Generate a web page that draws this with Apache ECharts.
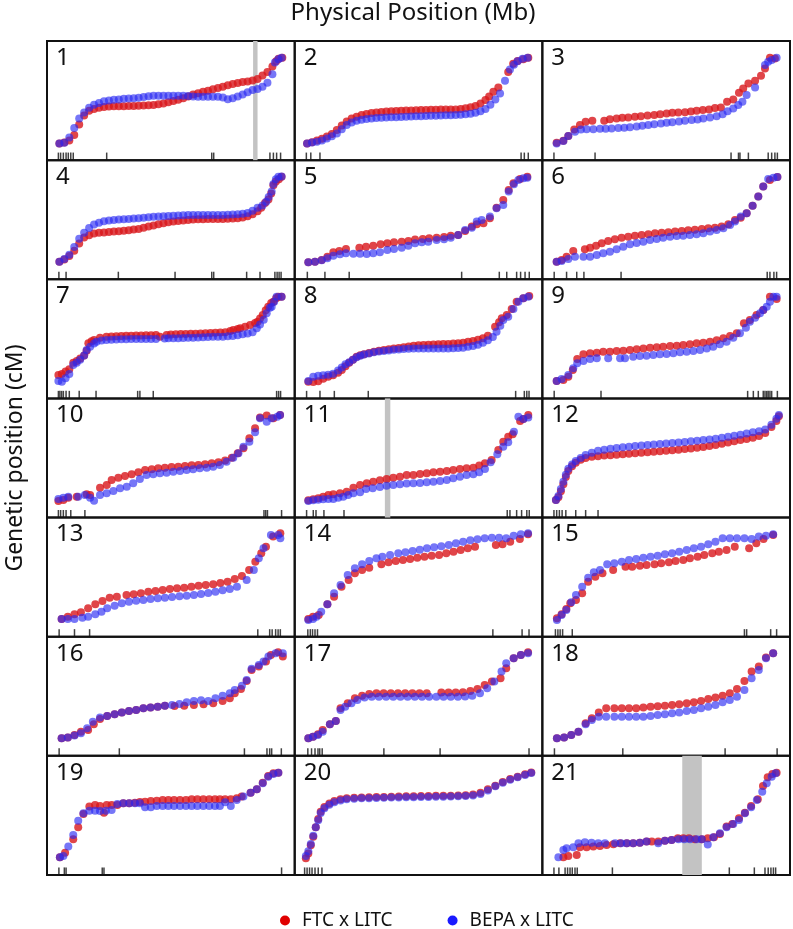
<!DOCTYPE html>
<html><head><meta charset="utf-8">
<script src="https://cdn.jsdelivr.net/npm/echarts@6/dist/echarts.min.js"></script>
<style>html,body{margin:0;padding:0;background:#fff}#c{width:793px;height:929px}</style>
</head><body><div id="c"></div>
<script>
// ---- data (relative physical position 0-100, relative genetic position 0-100) ----
const p1Red=[[5,14],[7,14.8],[9,16.5],[11,21],[13,30],[15,37.5],[17,41.5],[19,43],[21,44],[23,44.6],[25,45],[27,45.3],[29,45.3],[31,45.3],[33,45.4],[35,45.5],[37,45.6],[39,45.8],[41,46],[43,46.2],[45,47],[47,47.6],[49,48.6],[51,49.6],[53,50.6],[55,52],[57,53.5],[59,55],[61,56.2],[63,57.4],[65,58.3],[67,59.5],[69,60.5],[71,61.6],[73,62.8],[75,64],[77,64.8],[79,65.5],[81,66.1],[83,66.8],[85,68],[87,71],[89,74],[91,78.5],[92.5,83],[93.5,85],[95,86]];
const p1Blue=[[5,14],[7,14.5],[9,19],[11,27],[13,35],[15,40],[17,44],[19,46.5],[21,48],[23,49.5],[25,50],[27,50.7],[29,51],[31,51.5],[33,51.8],[35,52],[37,52.3],[39,53],[41,53.6],[43,54],[45,54],[47,54],[49,54],[51,54],[53,54],[55,54],[57,53.8],[59,53.5],[61,53.3],[63,53.2],[65,53.2],[67,53.2],[69,53.2],[71,52.5],[73,51.2],[75,52],[77,53.5],[79,55],[81,57],[83,58.8],[85,59.8],[87,61.5],[89,65],[91,72],[92,82],[93.4,84.6],[94.7,86]];
const p1Rug=[4.6,5.5,6.6,7.7,8.6,9.6,10.6,24.1,66.5,67.3,90,91.4,92.7,94.3];

const p2Red=[[5,14],[7,15],[9,16.5],[11,18],[13,19.8],[15,22],[17,25.2],[19,29],[21,32.5],[23,35],[25,36.4],[27,37.8],[29,38.8],[31,39.5],[33,40],[35,40.5],[37,40.9],[39,41.1],[41,41.3],[43,41.5],[45,41.6],[47,41.7],[49,41.8],[51,42],[53,42.1],[55,42.2],[57,42.3],[59,42.4],[61,42.4],[63,42.5],[65,42.5],[67,43],[69,43.5],[71,44.3],[73,45.5],[75,47.5],[77,50.5],[78.5,53.5],[80.2,57.3],[82.2,61],[86.2,74],[88.2,81],[90,83.3],[92.3,84.6],[94.3,86]];
const p2Blue=[[5,14],[7,14.8],[9,15.4],[11,16.5],[13,18.2],[15,20],[17,22.4],[19,26],[21,29.4],[23,31.5],[25,33],[27,34],[29,34.6],[31,35],[33,35.3],[35,35.5],[37,35.7],[39,35.9],[41,36.1],[43,36.3],[45,36.5],[47,36.7],[49,36.8],[51,36.9],[53,37],[55,37.2],[57,37.3],[59,37.5],[61,37.6],[63,37.7],[65,37.8],[67,38.2],[69,38.6],[71,39],[73,39.8],[75,41],[77,43],[79,46.5],[81,51],[82.9,56],[84.9,66.6],[86.9,76],[88.5,80],[90,83],[92,85],[94,86]];
const p2Rug=[4.7,6.5,10.2,91.4,92.7,94.3];

const p3Red=[[5.8,14.5],[8.5,16.2],[10.5,20.2],[12.9,25.7],[15.2,29.4],[17.5,32.2],[20.2,33],[25,33],[27.3,34.4],[30,35],[32.3,35.5],[34.7,35.8],[37.4,36.4],[39.8,36.9],[42.5,37.5],[45.2,37.8],[47.6,38.6],[50.2,39.2],[52.5,39.7],[54.9,40],[57.6,40.3],[60,40.9],[62.3,41.4],[64.8,42],[67.3,42.5],[69.7,43.7],[72.1,44.2],[74.6,49],[77.1,51],[79.4,56.5],[81.1,60.2],[83.2,64.4],[85.9,66.6],[88.3,70.8],[89.9,77],[91.9,85.9],[93.9,85.4]];
const p3Blue=[[5.8,14],[8.5,16],[10.5,20.2],[13.2,23.8],[15.6,25.7],[17.9,26],[20.6,26],[23.3,26.3],[25.6,26.3],[28,26.6],[30.7,26.9],[33.1,27.2],[35.4,27.7],[38.1,28.3],[40.4,28.8],[42.8,29.4],[45.2,30.2],[47.9,30.8],[50.2,31.3],[52.5,31.9],[55.2,32.5],[57.6,33],[60.3,33.6],[62.7,34.2],[65,35],[67.7,35.8],[70.4,36.9],[72.8,38.6],[74.8,41.1],[77.1,43.4],[79.1,46.2],[80.8,49],[82.5,54.6],[85.9,61],[89.9,79.8],[91.2,82.6],[92.6,84],[94.6,85.9]];
const p3Rug=[4.7,21.3,76.2,79.2,79.8,83.2,91.2,92.6,93.9,94.9];

const p4Red=[[5,14.8],[7,16.5],[9,19.5],[11,24],[13,30],[15,35],[17,37],[19,38.4],[21,39],[23,39.3],[25,39.6],[27,40],[29,40.4],[31,40.7],[33,41.2],[35,41.7],[37,42.3],[39,43.2],[41,44.2],[43,45.2],[45,46.2],[47,47.1],[49,47.8],[51,48.4],[53,49],[55,49.4],[57,49.8],[59,50.1],[61,50.3],[63,50.4],[65,50.5],[67,50.6],[69,50.6],[71,50.7],[73,50.8],[75,51],[77,51.2],[79,51.8],[81,53],[83,54.5],[85,57],[86.5,60],[88,64],[89.4,67],[90.5,72],[91.4,79],[92.4,82],[93.6,84],[94.7,86]];
const p4Blue=[[5,14.8],[7,17],[9,20.5],[11,27],[13,34],[15,39],[17,43],[19,46],[21,47.5],[23,48.7],[25,49.3],[27,49.8],[29,50.2],[31,50.4],[33,50.7],[35,51],[37,51.2],[39,51.6],[41,52],[43,52.4],[45,52.7],[47,53],[49,53.2],[51,53.4],[53,53.6],[55,53.8],[57,54],[59,54],[61,54],[63,54],[65,54],[67,54],[69,54],[71,54],[73,54.2],[75,54.4],[77,54.6],[79,55],[81,55.6],[83,57.5],[85,60],[87,62],[88.5,65],[89.5,69],[90.7,73.6],[91.4,80],[92.4,84],[93.4,86],[94.7,86.2]];
const p4Rug=[4.8,7.7,28.8,51.7,66.5,67.3,80.6,86,92,92.9,93.7,94.5];

const p5Red=[[5.5,14.3],[8.2,14.8],[10.9,16.2],[13.2,19],[15.6,22.7],[18,23.8],[20.7,25.4],[26.1,26.5],[28.8,27.4],[31.7,28.2],[34.7,29.4],[37.4,30.2],[40.1,31.1],[43.2,31.6],[45.9,32.2],[48.6,33.3],[51.7,33.8],[54.3,34.4],[57.3,34.9],[60.3,35.5],[63,36.6],[66,37.2],[68.8,40.6],[71.5,44.2],[73.5,46.2],[76.2,47],[78.8,51.2],[81.5,60.1],[84.2,66.6],[86.4,75],[88.3,80.6],[91,84.2],[93.9,86.1]];
const p5Blue=[[5.5,14.3],[8.2,14.8],[10.9,16],[13.2,17.6],[15.6,19.8],[18.3,21],[20.7,21.8],[23.7,21.5],[26.4,21.5],[29.1,21.2],[31.7,21.8],[34.4,22.7],[37.4,24.6],[40.1,25.4],[43.2,26.5],[45.9,28.2],[48.6,30.2],[51.3,31.1],[53.9,31.6],[57.3,33],[60.3,33.5],[63,34.9],[66,37.2],[68.8,41.4],[71.5,43.3],[73.5,48.4],[75.5,49.8],[78.8,52.6],[81.5,59.6],[84.2,62.4],[86.4,73.6],[88.5,79.8],[90.3,83.4],[92.3,84.8],[93.9,85.3]];
const p5Rug=[5.1,12.2,22,67.4,82.6,85.6,89.6,91.2,93,94.7];

const p6Red=[[5.8,14.8],[7.8,16.2],[9.8,19],[12.5,23.8],[17.2,25.2],[19.3,26.5],[21.7,28.2],[24,30.2],[26.6,32.2],[29.3,33.5],[32,34.9],[34.7,35.8],[37.4,36.6],[40.1,37.2],[42.8,37.8],[45.5,38.6],[48.2,39.1],[50.9,39.5],[53.6,40],[56.3,40.6],[58.9,41.1],[61.6,41.6],[64.4,42.2],[67,42.8],[69.7,43.3],[72.4,44.2],[75.1,46.2],[77.8,49.8],[80.1,51.7],[82.5,55.4],[84.9,61.8],[87.2,69.4],[89.2,77.8],[91.9,83.4],[94.9,85.9]];
const p6Blue=[[5.8,14.8],[7.8,15.4],[10.5,17],[13.2,19],[16.6,19],[19.3,19],[22,20.4],[24.6,21.8],[27.3,23.2],[30,25.2],[32.7,27.4],[35.4,29.4],[38.1,30.5],[40.8,31.6],[43.5,33],[46.2,33.8],[48.8,34.9],[51.6,35.8],[54.3,36.4],[56.9,36.6],[59.6,37.2],[62.3,37.8],[65,38.6],[67.7,40],[70.4,41.4],[73.1,42.8],[75.8,45.6],[77.8,48.4],[80.1,52.6],[82.5,55.4],[84.9,61.8],[87.2,69.4],[89.2,77.8],[91.2,84.2],[93.3,85.3],[94.9,85.9]];
const p6Rug=[4.8,9.8,13.9,16.8,31.8,90.8,91.9,93.5,94.6];

const p7Red=[[4.6,19.6],[6,20.5],[7.5,22.5],[9,24.5],[10.6,30],[12,31.5],[13.4,33.5],[15,36],[16,40],[16.7,46.3],[18,48],[19,49],[21.4,51],[24,51.8],[26,52],[28,52.2],[30,52.4],[32,52.6],[34,52.7],[36,52.8],[38,52.9],[40,53],[42,53.1],[44,53.2],[45.6,51.8],[48.3,53.2],[50,53.6],[52,53.8],[54,54],[56,54.1],[58,54.2],[60,54.3],[62,54.5],[64,54.7],[66,54.9],[68,55.1],[70,55.3],[72,55.6],[74,56.5],[75.2,57.4],[77,58.3],[78,58.9],[80,60.2],[82,61.6],[84,63.2],[85,64.4],[86,67],[87.1,70],[88.3,74],[89.3,77],[90.5,80],[91.4,81.2],[92.5,84],[93.4,85.4],[94.7,85.4]];
const p7Blue=[[4.6,14.6],[6,14],[7.5,17],[9,20.5],[10.6,28],[12,30],[13.4,32.5],[15,36],[16,40.6],[17.4,43.4],[19,46],[20,47.6],[22,48.6],[24,49],[26,49.2],[28,49.4],[30,49.6],[32,49.7],[34,49.8],[36,49.8],[38,49.9],[40,49.9],[42,49.9],[44,49.9],[47.5,50.2],[49,50.4],[51,50.5],[53,50.6],[55,50.7],[57,50.9],[59,51],[61,51.2],[63,51.4],[65,51.6],[67,51.7],[69,51.7],[71,51.8],[73,52.1],[75,52.4],[77,53],[79,53.8],[81,54.4],[83,55.5],[84.7,58.9],[86,62],[87.5,66],[88.7,71.4],[90,76],[90.7,77],[91.7,81.2],[92.7,85.4],[94.7,85.4]];
const p7Rug=[4.6,5.2,5.9,6.6,7.7,9,13,19.8,36.6,37.5,42.9,92.7,93.5,94.3];

const p8Red=[[5.5,14],[7.5,13.8],[9.5,14.5],[11.5,16.5],[13.5,18.2],[15.5,19.5],[17.5,21.5],[19,23.8],[20.5,27],[22,30],[23.5,32.5],[25,35],[26.5,36.3],[28,37],[30,38.2],[32,39.2],[34,40],[36,40.6],[38,41.2],[40,41.8],[42,42.4],[44,43],[46,43.6],[48,44.2],[50,44.6],[52,44.8],[54,45.1],[56,45.3],[58,45.4],[60,45.6],[62,45.7],[64,46],[66,46.4],[68,46.8],[70,47.5],[72,48.2],[74,49.2],[76,50.5],[78,52.5],[80.9,60.2],[82.5,64],[83.6,67.3],[85.6,70],[87.6,75.1],[89.6,81.2],[92.3,84],[94.7,86]];
const p8Blue=[[5.5,14.6],[7.5,18.2],[9.5,19.1],[11.5,19.4],[13.5,19.8],[15.5,20.7],[17.5,23.5],[19,26],[20.5,28.6],[22,30.3],[23.5,32.5],[25,34.5],[26.5,35.9],[28,36.8],[30,37.6],[32,38.7],[34,39.3],[36,39.8],[38,40.3],[40,40.8],[42,41.1],[44,41.4],[46,41.6],[48,41.8],[50,41.9],[52,42],[54,42],[56,42],[58,42],[60,42],[62,42],[64,42.1],[66,42.3],[68,42.6],[70,43.3],[72,44],[74,45],[76,46.8],[78,48.8],[80,51.5],[81.5,56],[83,61],[84.2,65.8],[86.2,68.6],[88.3,75],[90.3,81.2],[92.3,84],[94.3,85.4]];
const p8Rug=[4.8,10.2,16,29.7,89.2,92.7,93.7,94.6];

const p9Red=[[5.8,14.6],[8.5,15.4],[10.5,18.2],[12.3,23.8],[14.1,33.1],[16.6,37],[19.3,37.9],[22,38.4],[24.6,39.2],[27.3,39.2],[30,39.8],[32.7,40],[35.4,40.6],[38.1,41.2],[40.8,42],[43.5,42.6],[46.2,42.9],[48.8,43.4],[51.6,44],[54.3,44.2],[56.9,44.8],[59.6,45.4],[62.3,46.3],[65,46.8],[67.7,47.6],[70.4,48.8],[73.1,50.5],[75.8,52.4],[78.5,54.7],[81.4,63.1],[83.8,65.8],[86.5,70],[89.2,74.2],[91.9,85.4],[94.6,83.5]];
const p9Blue=[[5.8,14.6],[7.8,16.3],[10.5,19.6],[12.5,25.3],[14.1,29.5],[16.6,31.4],[19.3,33.1],[22,33.7],[26.6,33.7],[31.4,33.7],[33.4,33.7],[36.7,35],[39.4,35.6],[42.1,35.9],[44.8,36.4],[47.5,37],[50.2,37.3],[52.9,37.9],[55.6,38.7],[58.3,39.2],[61,39.8],[63.7,40.6],[66.4,42],[69,43.4],[71.7,45.4],[74.4,47.6],[77.1,51],[79.8,54.7],[82.2,59.4],[83.8,64.4],[85.9,67.8],[87.9,71.5],[89.2,74.2],[90.6,77],[91.9,81.2],[93.3,85.4],[94.6,85.4]];
const p9Rug=[4.8,23.7,82.9,85.2,87.2,89.2,89.9,90.6,91.2,91.9,92.6,94.9];

const p10Red=[[4.6,13.9],[6.6,14.8],[8.6,16.7],[12,17.5],[16,19.6],[17.4,19],[21.4,25.1],[24.1,27.4],[26.1,31.6],[28.8,33.5],[31.5,34.9],[34.2,36.4],[36.9,38],[39.6,40],[42.3,40.6],[44.9,41.4],[47.6,41.9],[50.3,42.5],[53,42.7],[55.7,43.3],[58.4,43.9],[61.1,44.2],[63.8,44.8],[66.5,45.6],[69.2,46.4],[71.9,47.8],[74.6,50.3],[77,54],[79.3,58.2],[81.7,66.6],[84,75],[86,83.9],[88.7,85.6],[91.4,83.4],[94.1,86.1]];
const p10Blue=[[4.6,15.6],[6.6,16.7],[8.6,17.5],[12.6,17.5],[15.3,19],[17.4,16.7],[19,14.2],[21.4,19],[24.1,20.4],[26.8,22.3],[29.5,24.6],[32.2,25.9],[34.8,28.8],[37.5,32.4],[40.2,35.8],[42.9,36.4],[45.6,37.2],[48.3,37.7],[51,38.5],[53.7,39.1],[56.4,40],[59,40.6],[61.7,41.4],[64.5,41.9],[67.1,42.7],[69.8,44.2],[72.5,46.9],[75.2,50.3],[77.3,54],[79.3,59.5],[81.7,63.7],[84,71.6],[86,83.4],[88.7,80.5],[90.7,83.4],[93,84.7],[94.1,86.1]];
const p10Rug=[4.6,5.5,6.6,7.7,9.6,15.3,87.6,88.3,89,94.7];

const p11Red=[[5.5,14.5],[7.5,15.4],[9.5,16.2],[11.5,17.5],[13.6,19],[15.6,19.6],[18.3,20.4],[21,21.7],[23.7,25.1],[26.4,27.4],[29.1,28.8],[31.7,30.1],[34.4,31.3],[37.1,32.4],[39.8,33.5],[42.5,34.3],[45.2,35.8],[47.9,35.8],[50.6,36.6],[53.3,37.2],[56,38],[58.7,38.5],[61.4,39.1],[64,40],[66.7,40.8],[69.4,41.4],[72.1,41.9],[74.5,43.6],[76.8,45.6],[79.5,48.4],[82.2,56.8],[84.2,63.7],[86.2,67.9],[88,69.9],[91,81.1],[92.3,82.8],[94.3,86.1]];
const p11Blue=[[5.5,13.9],[7.5,14.5],[9.5,15],[11.5,15.4],[13.6,15.6],[15.6,15.6],[17.6,16.7],[19.6,17.5],[21.6,19],[23.7,20.4],[26.4,21.2],[28.8,24],[31.5,24.6],[34.4,25.7],[37.1,26.8],[39.8,27.4],[42.5,27.9],[45.2,28.5],[47.9,28.8],[50.6,29.1],[53.3,29.6],[56,30.1],[58.7,30.7],[61.4,31.6],[64,33],[66.7,34.3],[69.4,35.8],[72.1,36.4],[74.5,38],[76.8,40.8],[79.1,46.4],[81.8,53.1],[84.2,59.5],[86.2,63.2],[88.5,72.1],[90.3,84.7],[92.3,82.8],[94.3,83.9]];
const p11Rug=[4.8,7.5,8.6,11.8,19.9,85.8,86.9,89.6,91.6,93.7,94.7];

const p12Red=[[5.5,14.8],[6.5,17],[7.5,22],[8.5,28],[9.5,34],[10.5,39],[12,43],[13.5,46],[15.5,48.5],[17.5,50],[20,51],[22.5,51.5],[25,52],[27.5,52.4],[30,52.8],[32.5,53.2],[35,53.6],[37.5,54],[40,54.4],[42.5,54.8],[45,55.2],[47.5,55.6],[50,56],[52.5,56.5],[55,57],[57.5,57.5],[60,58],[62.5,58.6],[65,59.2],[67.5,60],[70,61],[72.5,62],[75,63],[77.5,64],[80,65],[82.5,66],[85,67],[87.5,68.5],[90,71],[92.5,76],[94.5,81],[95.5,85]];
const p12Blue=[[5.5,14.8],[6.5,18],[7.5,24],[8.5,30],[9.5,36],[10.5,41],[12,44.5],[13.5,47.5],[15.5,50],[17.5,52.5],[20,54.5],[22.5,56],[25,57],[27.5,57.8],[30,58.4],[32.5,59],[35,59.5],[37.5,60],[40,60.5],[42.5,61],[45,61.4],[47.5,61.8],[50,62.2],[52.5,62.6],[55,63],[57.5,63.5],[60,64],[62.5,64.5],[65,65],[67.5,65.6],[70,66.2],[72.5,67],[75,67.8],[77.5,68.6],[80,69.5],[82.5,70.5],[85,71.5],[87.5,72.5],[90,74],[92.5,78],[94.5,83],[95.5,86]];
const p12Rug=[4.7,5.8,6.9,8,9.5,13.5,17.5,22.5];

const p13Red=[[5.9,14.9],[8.4,16.8],[11.1,18.8],[13.7,20.5],[16.6,23.8],[19.5,27.2],[22.4,30],[25.3,32.7],[28.2,33.6],[32.1,35],[35,35.6],[37.9,36.4],[40.9,37.8],[43.8,38.4],[46.7,39.2],[49.6,40],[52.5,40.6],[55.4,41.1],[58.3,42],[61.2,42.8],[64.1,43.4],[67.1,44],[70,45.1],[72.9,46.2],[75.8,48.4],[78.7,51],[81.6,56],[84.1,63],[86.5,70],[88.4,75.6],[91.3,84],[94.2,86.8]];
const p13Blue=[[5.9,14.9],[8.4,14.9],[11.1,14.9],[14.3,16],[16.6,16.8],[19.5,18.8],[22,21],[24.3,23.8],[27.3,26],[30.2,28],[33.1,29.4],[36,30.2],[38.9,30.8],[41.8,31.7],[44.7,32.2],[47.6,32.7],[50.5,33.3],[53.5,33.9],[56.4,34.4],[59.3,35],[62.2,35.9],[65.1,36.7],[68,37.8],[70.9,39],[73.8,40],[76.7,42],[80.6,47.6],[83.5,56],[85.5,65.8],[87.4,74.2],[90.4,85.4],[93.3,85.4],[94.2,82.6]];
const p13Rug=[4.9,11.1,17.2,85.1,89.9,90.9,92.3,93.3,94.2];

const p14Red=[[5.5,14.9],[7.4,16.8],[9.7,18.2],[13.2,27.2],[15.9,33.6],[18.9,42],[21.8,47.6],[24.3,53.2],[27.2,56],[30.1,57.9],[35,60.8],[37.9,62.5],[40.8,63.6],[43.7,64.4],[46.6,65.2],[49.5,66.3],[52.4,67.2],[55.3,68],[58.3,68.6],[61.2,70],[64.1,71.4],[67,72.8],[69.9,74.2],[72.8,75.6],[81.2,77],[83.9,77.6],[87,79.8],[90.9,82],[94.2,86]];
const p14Blue=[[5.5,14],[7.4,14.9],[8.8,16.8],[10.7,21],[13.2,27.2],[15.9,36.4],[18.5,43.4],[21.4,51.8],[24.3,57.4],[27.2,60.8],[30.1,63.6],[33,65.8],[35.4,67.2],[38.5,68.6],[41.8,70],[44.7,70.9],[47.6,72],[50.5,73],[53.4,74.2],[56.3,75.1],[59.2,75.9],[62.2,77],[65.1,78.4],[68,79.8],[70.9,80.9],[73.8,81.8],[76.7,82.6],[79.6,83.1],[82.5,83.1],[85.4,82.6],[88.4,84.8],[91.3,86],[94.2,86.8]];
const p14Rug=[5.3,6.3,7.2,8.2,9.2,80,91.8,94.6];

const p15Red=[[5.9,15.4],[7.8,18.8],[9.7,23.3],[11.3,28],[13.6,30.8],[16.1,36.4],[18.5,46.2],[21.4,50.4],[24.3,53.2],[28.6,56],[33.6,58.8],[36.3,58.8],[39.4,59.6],[42.1,60.2],[45.3,60.8],[48,61.6],[51.1,62.5],[53.8,63.6],[56.9,64.4],[59.6,65.8],[62.7,67.2],[65.4,68.6],[68.6,70],[71.3,71.4],[74.4,72.8],[77.7,75.6],[83.5,74.2],[86.4,78.4],[89.3,82],[93.2,85.4]];
const p15Blue=[[5.9,14],[7.8,18.2],[9.7,22.4],[11.7,28.9],[13.6,35],[16.1,42],[18.5,49.5],[20.8,54.1],[23.3,56],[26.2,60.8],[29.1,61.6],[32.1,63],[35,64.4],[37.9,65.2],[40.8,66.3],[43.7,67.2],[46.6,68],[49.5,69.2],[52.4,70],[55.3,71.4],[58.3,72.8],[61.2,74.2],[64.1,75.6],[67,77.6],[69.9,79.8],[72.8,82.6],[75.7,82.6],[78.6,82.6],[81.6,82.6],[84.5,82],[87.4,84],[90.3,84.8],[93.2,86]];
const p15Rug=[5.3,6.3,7.2,8.2,12.1,81.6,82.5,92.2,94.6];

const p16Red=[[5.9,14.8],[8.4,15.3],[11.1,17.5],[13.7,20.3],[16.6,21.7],[18.9,26.5],[21.4,31],[24.3,33.5],[27.3,34.9],[30.2,36.3],[33.1,37.7],[36,38.5],[38.9,40],[41.8,40.5],[44.7,41.3],[47.6,42.1],[51.5,41.9],[55.4,42.1],[59.3,42.7],[63.2,43.3],[67.1,44.2],[70.9,46.1],[73.8,48.4],[75.8,52.6],[78.3,56.2],[80.6,62.9],[82.6,72.1],[85.5,74.9],[88.4,79.1],[90.4,84.7],[93.3,87],[95.2,83.3]];
const p16Blue=[[5.9,14.8],[8.4,15.3],[11.1,17],[13.7,19],[16.2,23.2],[18.5,28.7],[21.4,32.1],[24.3,33.5],[27.3,34.9],[30.2,36.3],[33.1,37.7],[36,38.5],[38.9,40],[41.8,40.5],[44.7,41.3],[47.6,42.1],[50.5,42.7],[53.5,43.6],[56.4,45],[59.3,46.1],[62.2,46.7],[65.1,46.1],[68,48.4],[70.9,50.5],[73.8,52.6],[75.8,55.3],[78.7,58.9],[80.6,63.7],[82.6,73],[85.5,76.3],[87.4,79.1],[89.4,83.3],[92.3,86.1],[95.2,86.1]];
const p16Rug=[4.9,29.2,79.7,88.8,89.9,90.7,94.6];

const p17Red=[[5.5,14.8],[7.4,16.1],[9.4,18.1],[11.3,21.7],[14.2,26.5],[16.6,29.3],[18.5,40],[21.4,44.2],[24.3,48.4],[27.2,50.5],[30.1,52],[33,52.6],[35.9,52.6],[38.8,52.6],[41.7,52.6],[44.6,52.6],[47.5,52.6],[50.4,52.6],[53.3,52.6],[59.2,53.1],[62.1,53.1],[65,53.1],[67.9,53.4],[70.9,54.5],[73.8,56.2],[76.7,59.5],[79.6,62.3],[83.1,65.2],[85.4,73.6],[88.4,81.9],[91.3,84.7],[94.2,87]];
const p17Blue=[[5.5,14.8],[7.4,16.1],[9.4,17.5],[11.3,20.3],[14.2,26.5],[16.6,29.3],[18.5,38.5],[20.4,41.3],[22.9,44.2],[25.3,46.9],[28.2,48.9],[31.1,49.7],[34,49.7],[36.9,49.7],[39.8,49.7],[42.7,49.7],[45.6,49.7],[48.5,49.7],[51.4,49.7],[54.3,49.7],[57.2,49.7],[60.1,49.7],[63,49.7],[65.9,49.7],[68.8,49.9],[71.7,50.5],[74.8,52.6],[77.7,56.8],[80.6,62.3],[83.5,70.7],[85.4,77.7],[88.4,81.9],[91.3,84.7],[94.2,86.1]];
const p17Rug=[5.3,6.8,8.2,9.4,10.1,11.1,36,58.7,94.6];

const p18Red=[[5.9,14.8],[8.8,15.3],[11.7,17.5],[14.6,20.3],[17.5,27.4],[20,31.6],[22.8,36.3],[25.8,40],[29.1,40],[32.1,40],[35,40],[37.9,40],[40.8,40.5],[43.7,41.1],[46.6,41.6],[49.5,42.1],[52.4,42.7],[55.3,43.3],[58.3,44.2],[61.2,45],[64.1,46.1],[67,47.8],[69.9,48.9],[72.8,50.5],[75.7,52.6],[78.6,56.2],[81.6,62.9],[84.5,70.7],[87.4,74.9],[90.3,82.5],[93.2,86.1]];
const p18Blue=[[5.9,14.8],[8.8,15.3],[11.7,17.5],[14.6,20.3],[17.5,26.5],[20,30.1],[22.8,32.9],[25.8,32.9],[29.1,32.9],[32.1,32.9],[35,32.9],[37.9,32.9],[40.8,32.9],[43.7,33.5],[46.6,34.3],[49.5,34.9],[52.4,35.8],[55.3,36.3],[58.3,37.7],[61.2,38.5],[64.1,40],[67,41.3],[69.9,42.7],[72.8,45],[75.7,46.9],[78.6,49.7],[81.6,55.3],[84.5,65.2],[87.4,72.1],[90.3,81.9],[93.2,86.1]];
const p18Rug=[4.9,32.5,73.8,94.8];

const p19Red=[[5.2,14.8],[7.3,18.7],[10.6,30],[12.6,40],[14.7,51.2],[17.1,57.4],[19.4,58.8],[21.4,57.9],[23,52.3],[24.1,58.8],[26.1,58.8],[28.4,58.8],[30.8,60.2],[33.2,60.2],[35.5,60.7],[37.5,61.3],[39.6,61.5],[41.9,62.1],[44.3,62.4],[46.7,63],[49,63],[51.3,63],[53.7,63],[56.1,63],[58.4,63.5],[60.7,63.5],[63.1,63.5],[65.5,63.5],[67.8,63.5],[69.8,63.5],[71.9,63.5],[74.2,63.5],[76.6,64.4],[78.6,65.8],[82.2,69.1],[84.7,71.9],[87.1,77.5],[89.3,83.1],[91.4,85.4],[93.4,85.9]];
const p19Blue=[[5.2,14.8],[6.6,16],[8.6,23.8],[10.6,33.6],[12.6,45.6],[14.7,51.8],[17.1,54],[19.4,54],[21.4,53.7],[23.8,54],[26.1,54.6],[28.4,59.6],[30.8,60.2],[33.2,60.2],[35.5,60.2],[37.5,60.2],[39.6,56.8],[41.9,56.8],[44.3,57.9],[46.7,57.9],[49,57.9],[51.3,57.9],[53.7,57.9],[56.1,57.9],[58.4,57.9],[60.7,57.9],[63.1,57.9],[65.5,57.9],[67.8,57.9],[69.8,57.9],[71.9,61],[74.2,57.9],[76.6,63],[79.3,65.8],[82.2,69.1],[84.7,71.9],[87.1,77],[89.3,82.5],[91.4,84.8],[93.4,85.9]];
const p19Rug=[4.8,7,7.7,22.3,23,94.7];

const p20Red=[[4.5,14],[5.5,18],[6.5,25],[7.5,32],[8.5,40],[9.5,47],[10.5,53],[12,57],[14,60],[16,62],[18.5,63.5],[21,64.3],[24,64.8],[27,65],[30,65.2],[33,65.4],[36,65.5],[39,65.7],[42,65.8],[45,66],[48,66.1],[51,66.2],[54,66.3],[57,66.4],[60,66.5],[63,66.6],[66,66.8],[69,67],[72,67.5],[75,69],[78,72],[81,75],[84,78],[87,80.5],[90,82.5],[93,84.5],[95.5,86]];
const p20Blue=[[4.5,16],[5.5,20],[6.5,26],[7.5,33],[8.5,40],[9.5,46],[10.5,52],[12,56],[14,59],[16,61],[18.5,62.5],[21,63.5],[24,64],[27,64.3],[30,64.5],[33,64.7],[36,64.8],[39,65],[42,65.1],[45,65.2],[48,65.3],[51,65.4],[54,65.5],[57,65.6],[60,65.7],[63,65.8],[66,66],[69,66.3],[72,66.8],[75,68],[78,71],[81,74.5],[84,77.5],[87,80],[90,82],[93,84],[95.5,85.5]];
const p20Rug=[4,5,6,7,8.2,9.5,11];

const p21Red=[[8.5,14.8],[10.5,16],[13.9,16.8],[15.2,23.3],[17.9,23.3],[20.6,23.8],[23.3,24.3],[26,25.2],[28.7,25.7],[31.4,26.6],[34.1,26.6],[36.7,26.6],[39.4,27.1],[42.1,28],[44.2,28],[46.8,28],[49.5,28.8],[52.2,29.4],[54.7,30.8],[56.9,30.8],[59.2,30.8],[61.6,30],[64.4,30],[66.8,30.8],[69.3,31.7],[71.7,34.4],[74.4,40.6],[76.7,42.8],[79.4,47.6],[81.8,52.3],[84.3,57.9],[87,63.5],[89.1,74.7],[91,82],[92.9,84.8],[94.6,85.9]];
const p21Blue=[[6.5,14.8],[8.5,21],[9.8,22.4],[12.5,23.3],[14.6,26.6],[17.2,27.4],[19.9,27.1],[22.6,26.6],[25.3,26.6],[29.4,26.6],[31.8,26.6],[34.1,26.6],[36.7,26.6],[39.4,27.1],[42.1,28],[46.8,26.6],[49.5,28.8],[52.2,29.4],[55,30],[57.3,30],[59.6,30],[62.3,30],[64.4,30],[66.8,25.5],[69,31.7],[71.7,35],[74.4,40],[77.1,42.8],[79.4,46.2],[81.8,51.8],[84.3,56.8],[86.6,63],[88.8,69.9],[90.6,77],[92.6,82.5],[94.2,85.4]];
const p21Rug=[4.7,6.7,9.2,10.2,11.2,12.1,13.2,14.1,28.3,75.5,85.6,89.9,91.2,92.3,93.3,94.2];

// highlighted regions (panel number, start, end)
const bandPanel=[1,11,21];
const bandStart=[83.2,36.4,56.5];
const bandEnd=[85,38.6,64.4];

const seriesNames=['FTC x LITC','BEPA x LITC'];
const panelLabels=['1','2','3','4','5','6','7','8','9','10','11','12','13','14','15','16','17','18','19','20','21'];

const redSets=[p1Red,p2Red,p3Red,p4Red,p5Red,p6Red,p7Red,p8Red,p9Red,p10Red,p11Red,p12Red,p13Red,p14Red,p15Red,p16Red,p17Red,p18Red,p19Red,p20Red,p21Red];
const blueSets=[p1Blue,p2Blue,p3Blue,p4Blue,p5Blue,p6Blue,p7Blue,p8Blue,p9Blue,p10Blue,p11Blue,p12Blue,p13Blue,p14Blue,p15Blue,p16Blue,p17Blue,p18Blue,p19Blue,p20Blue,p21Blue];
const rugSets=[p1Rug,p2Rug,p3Rug,p4Rug,p5Rug,p6Rug,p7Rug,p8Rug,p9Rug,p10Rug,p11Rug,p12Rug,p13Rug,p14Rug,p15Rug,p16Rug,p17Rug,p18Rug,p19Rug,p20Rug,p21Rug];

// ---- layout & styling ----
const FONT='"Noto Sans", "Open Sans", sans-serif';
const RED='rgb(216,22,28)';
const BLUE='rgba(40,40,242,0.8)';
const GL=[47,294.7,542.3], GW=247.7, GT=41, GH=119.14;

const grids=[],xAxes=[],yAxes=[],series=[],titles=[];
redSets.forEach((red,i)=>{
  const col=i%3,row=Math.floor(i/3);
  const top=GT+row*GH, left=GL[col];
  grids.push({left:left,top:top,width:GW,height:GH,show:true,borderColor:'#111',borderWidth:2,backgroundColor:'rgba(0,0,0,0)',containLabel:false});
  xAxes.push({gridIndex:i,type:'value',min:0,max:100,show:false});
  yAxes.push({gridIndex:i,type:'value',min:0,max:100,show:false});
  const b=bandPanel.indexOf(i+1);
  const redSeries={type:'scatter',name:seriesNames[0],xAxisIndex:i,yAxisIndex:i,data:red,symbolSize:8,
    itemStyle:{color:RED},silent:true,z:3};
  if(b>=0){
    redSeries.markArea={silent:true,itemStyle:{color:'#c3c3c3'},data:[[{xAxis:bandStart[b]},{xAxis:bandEnd[b]}]]};
  }
  series.push(redSeries);
  series.push({type:'scatter',name:seriesNames[1],xAxisIndex:i,yAxisIndex:i,data:blueSets[i],symbolSize:8,
    itemStyle:{color:BLUE},silent:true,z:4});
  series.push({type:'scatter',name:'rug',xAxisIndex:i,yAxisIndex:i,data:rugSets[i].map(x=>[x,3.2]),
    symbol:'rect',symbolSize:[1.5,7.5],itemStyle:{color:'#111'},silent:true,z:5});
  titles.push({text:panelLabels[i],left:left+9,top:top+5,padding:0,
    textStyle:{fontFamily:FONT,fontSize:24,fontWeight:'normal',color:'#111'}});
});

const chart=echarts.init(document.getElementById('c'),null,{renderer:'canvas'});
chart.setOption({
  animation:false,
  backgroundColor:'#fff',
  title:titles,
  grid:grids, xAxis:xAxes, yAxis:yAxes, series:series,
  legend:{
    data:[{name:seriesNames[0],itemStyle:{color:'#e00000',opacity:1}},{name:seriesNames[1],itemStyle:{color:'#1a1aff',opacity:1}}],
    icon:'circle',itemWidth:10,itemHeight:10,itemGap:55,left:275,top:906,selectedMode:false,
    textStyle:{fontFamily:FONT,fontSize:19,color:'#111',padding:[0,0,0,7]}
  },
  graphic:[
    {type:'text',x:413,y:1,style:{text:'Physical Position (Mb)',font:'24px '+FONT,fill:'#111',textAlign:'center',textVerticalAlign:'top'}},
    {type:'text',x:4,y:458,rotation:Math.PI/2,style:{text:'Genetic position (cM)',font:'23px '+FONT,fill:'#111',textAlign:'center',textVerticalAlign:'top'}}
  ]
});
</script></body></html>
